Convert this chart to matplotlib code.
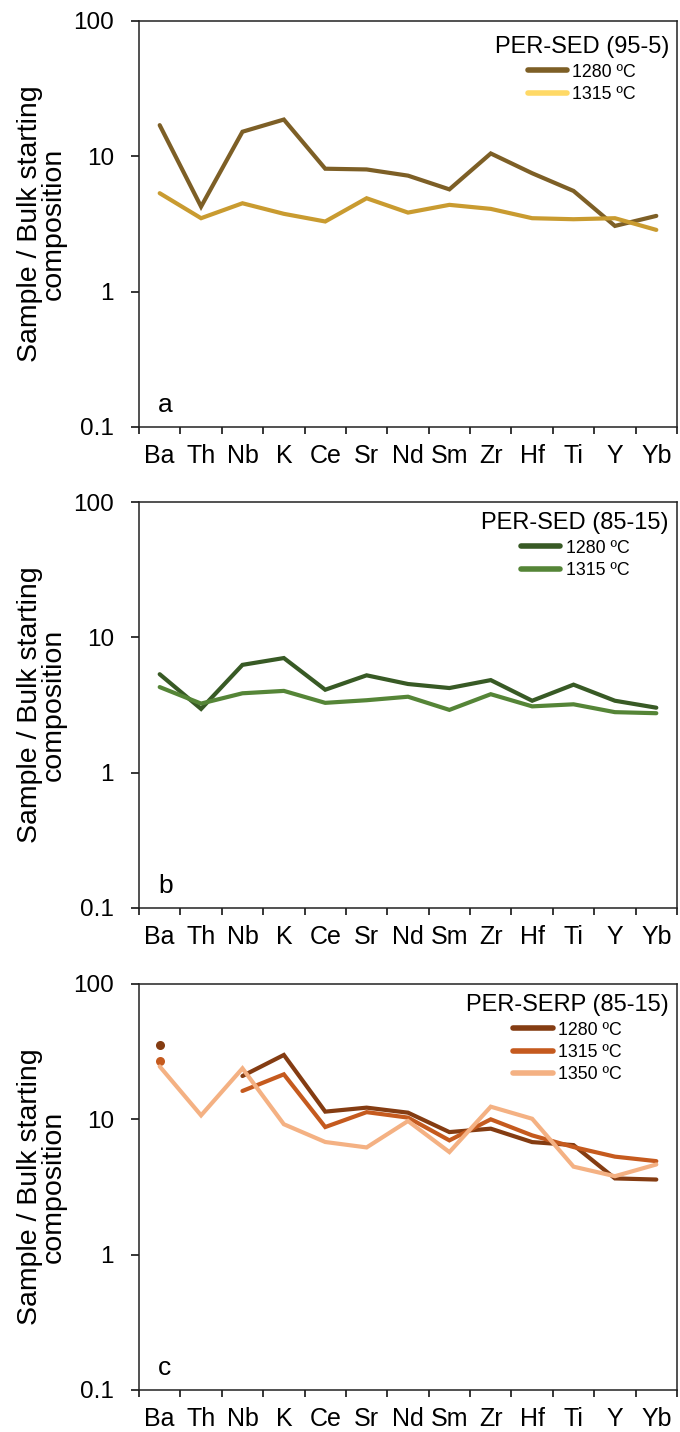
import numpy as np
import matplotlib.pyplot as plt
from matplotlib.lines import Line2D

plt.rcParams["font.family"] = ["Liberation Sans", "DejaVu Sans"]

elements = ["Ba", "Th", "Nb", "K", "Ce", "Sr", "Nd", "Sm", "Zr", "Hf", "Ti", "Y", "Yb"]

# (a) PER-SED (95-5)
sed95_1280 = [17.0, 4.25, 15.2, 18.7, 8.1, 8.0, 7.2, 5.7, 10.5, 7.5, 5.55, 3.06, 3.63]
sed95_1315 = [5.34, 3.49, 4.5, 3.76, 3.3, 4.9, 3.84, 4.38, 4.09, 3.49, 3.43, 3.49, 2.86]

# (b) PER-SED (85-15)
sed85_1280 = [5.34, 2.96, 6.26, 7.03, 4.1, 5.24, 4.52, 4.22, 4.83, 3.40, 4.47, 3.40, 3.02]
sed85_1315 = [4.29, 3.24, 3.86, 4.02, 3.28, 3.43, 3.64, 2.91, 3.8, 3.09, 3.2, 2.8, 2.75]

# (c) PER-SERP (85-15); no Th for the two cooler runs
serp_1280 = [35.5, np.nan, 20.9, 29.9, 11.4, 12.2, 11.2, 8.05, 8.53, 6.79, 6.45, 3.66, 3.59]
serp_1315 = [26.8, np.nan, 16.2, 21.5, 8.77, 11.3, 10.3, 6.99, 10.0, 7.61, 6.24, 5.3, 4.91]
serp_1350 = [24.6, 10.7, 23.8, 9.2, 6.8, 6.2, 9.72, 5.73, 12.4, 10.1, 4.47, 3.8, 4.64]

temps2 = ["1280 ºC", "1315 ºC"]
temps3 = ["1280 ºC", "1315 ºC", "1350 ºC"]

panels = [
    ("a", "PER-SED (95-5)", [sed95_1280, sed95_1315], temps2,
     ["#7D5F26", "#C99B30"], ["#7D5F26", "#FFD966"], 0.963),
    ("b", "PER-SED (85-15)", [sed85_1280, sed85_1315], temps2,
     ["#385A25", "#558537"], ["#385A25", "#558537"], 0.975),
    ("c", "PER-SERP (85-15)", [serp_1280, serp_1315, serp_1350], temps3,
     ["#843C12", "#C55A1E", "#F4B183"], ["#843C12", "#C55A1E", "#F4B183"], 0.975),
]

fig = plt.figure(figsize=(6.8, 14.32), dpi=100)
x = np.arange(len(elements))
left, width, height = 139 / 680, 538 / 680, 406 / 1432
bottoms = [1 - 427 / 1432, 1 - 908 / 1432, 1 - 1390 / 1432]

for (letter, title, series, labels, colors, leg_colors, leg_y), bottom in zip(panels, bottoms):
    ax = fig.add_axes([left, bottom, width, height])
    for vals, col in zip(series, colors):
        vals = np.asarray(vals, dtype=float)
        ax.plot(x, vals, color=col, lw=3.0, solid_capstyle="round",
                solid_joinstyle="miter")
        # isolated first value (next element missing) drawn as a dot
        if np.isnan(vals[1]):
            ax.plot(x[:1], vals[:1], "o", color=col, ms=6.5, mec="none")

    ax.set_yscale("log")
    ax.set_ylim(0.1, 100)
    ax.set_xlim(-0.5, len(elements) - 0.5)
    ax.set_yticks([0.1, 1, 10, 100])
    ax.set_yticklabels(["0.1", "1", "10", "100"])
    ax.minorticks_off()

    # tick marks between elements, labels centred on them
    ax.set_xticks(np.arange(-0.5, len(elements), 1.0))
    ax.set_xticklabels([])
    ax.set_xticks(x, minor=True)
    ax.set_xticklabels(elements, minor=True)
    ax.tick_params(axis="x", which="major", direction="out", length=5, width=1.1)
    ax.tick_params(axis="x", which="minor", length=0, labelsize=18, pad=12)
    ax.tick_params(axis="y", direction="out", length=6, width=1.1,
                   labelsize=17.5, pad=12)
    for sp in ax.spines.values():
        sp.set_linewidth(1.1)
        sp.set_color("#222222")

    ax.set_ylabel("Sample / Bulk starting\ncomposition", fontsize=20.5,
                  linespacing=0.85, labelpad=5)
    ax.text(0.035, 0.055, letter, transform=ax.transAxes, fontsize=19,
            ha="left", va="center")

    handles = [Line2D([], [], color=c, lw=4, solid_capstyle="round") for c in leg_colors]
    leg = ax.legend(handles, labels, title=title, loc="upper right",
                    bbox_to_anchor=(0.985, leg_y), frameon=False,
                    fontsize=12.8, title_fontsize=17, handlelength=2.2,
                    handletextpad=0.3, labelspacing=0.3, borderaxespad=0,
                    borderpad=0)
    leg._legend_box.sep = 4

fig.savefig("out.png", dpi=100)
